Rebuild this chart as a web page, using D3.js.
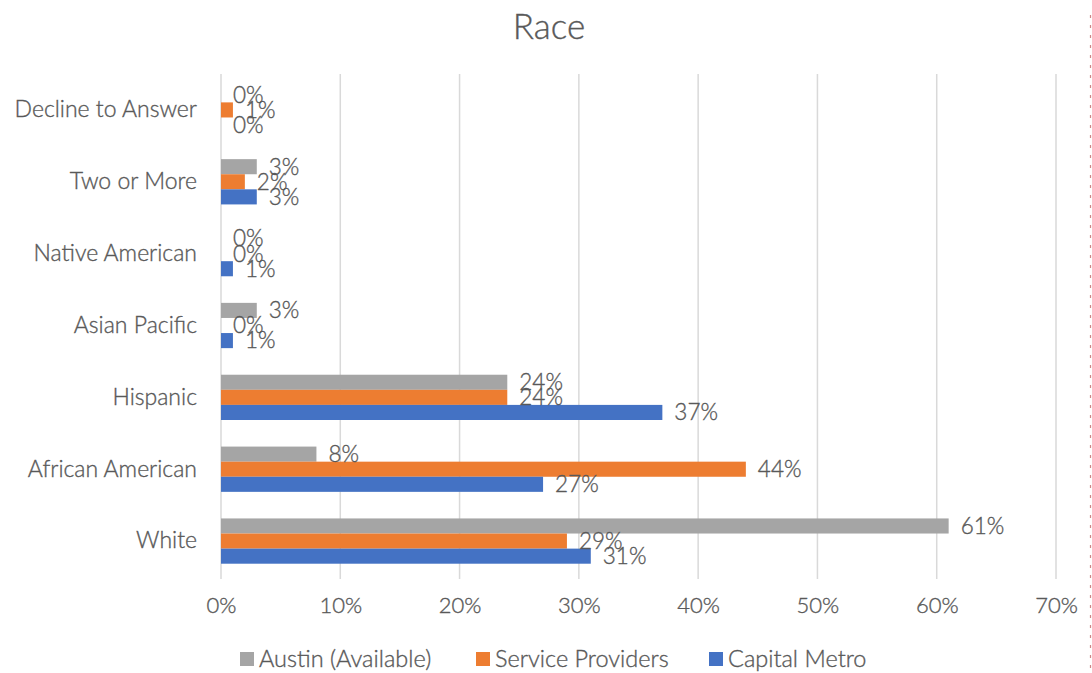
<!DOCTYPE html>
<html>
<head>
<meta charset="utf-8">
<script src="https://cdn.jsdelivr.net/npm/d3@7"></script>
<style>
  html, body { margin: 0; padding: 0; background: #fff; }
  svg { display: block; }
  text { font-family: Lato, "Open Sans", "Liberation Sans", sans-serif; font-weight: 300; fill: #595959; stroke: #595959; stroke-width: 0.35px; }
</style>
</head>
<body>
<svg id="chart" width="1092" height="673"></svg>
<script>
// Race breakdown: share of each group (percent)
const categories = ["White", "African American", "Hispanic", "Asian Pacific", "Native American", "Two or More", "Decline to Answer"];
const seriesNames = ["Austin (Available)", "Service Providers", "Capital Metro"];
const austinAvailable = [61, 8, 24, 3, 0, 3, 0];
const serviceProviders = [29, 44, 24, 0, 0, 2, 1];
const capitalMetro = [31, 27, 37, 1, 1, 3, 0];
const xTicks = [0, 10, 20, 30, 40, 50, 60, 70];
const colors = ["#a5a5a5", "#ed7d31", "#4472c4"];

const seriesValues = [austinAvailable, serviceProviders, capitalMetro];

const svg = d3.select("#chart");
const W = 1092, H = 673;
const margin = { left: 221, right: 36, top: 74, bottom: 96 };

const x = d3.scaleLinear().domain([0, 70]).range([margin.left, W - margin.right]);
const y = d3.scaleBand()
  .domain(categories.slice().reverse())
  .range([margin.top, H - margin.bottom])
  .paddingInner(0.37)
  .paddingOuter(0.185);
const ySub = d3.scaleBand().domain(seriesNames).range([0, y.bandwidth()]);

// Title
svg.append("text")
  .attr("x", 549).attr("y", 39)
  .attr("text-anchor", "middle")
  .style("font-size", "35px")
  .text("Race");

// Vertical gridlines
svg.append("g").selectAll("line")
  .data(xTicks)
  .join("line")
  .attr("x1", d => x(d)).attr("x2", d => x(d))
  .attr("y1", margin.top).attr("y2", H - margin.bottom + 2)
  .attr("stroke", "#d9d9d9")
  .attr("stroke-width", 1.5);

// X axis tick labels
const xAxis = d3.axisBottom(x).tickValues(xTicks).tickFormat(d => d + "%").tickSize(0).tickPadding(0);
const gx = svg.append("g").attr("transform", `translate(0,${H - margin.bottom + 20})`).call(xAxis);
gx.select(".domain").remove();
gx.selectAll("text").style("font-size", "22px").attr("dy", "0.71em");

// Category labels
const yAxis = d3.axisLeft(y).tickSize(0).tickPadding(24);
const gy = svg.append("g").attr("transform", `translate(${margin.left},0)`).call(yAxis);
gy.select(".domain").remove();
gy.selectAll("text").style("font-size", "23px");
svg.selectAll(".tick text")
  .attr("font-family", null)
  .style("font-family", "Lato, 'Open Sans', sans-serif")
  .style("font-weight", 300)
  .attr("fill", "#595959");

// Bars and value labels
const rows = [];
categories.forEach((c, i) => {
  seriesNames.forEach((s, j) => rows.push({ cat: c, series: s, value: seriesValues[j][i], color: colors[j] }));
});

const groups = svg.append("g");
groups.selectAll("rect")
  .data(rows)
  .join("rect")
  .attr("x", x(0))
  .attr("y", d => y(d.cat) + ySub(d.series))
  .attr("width", d => x(d.value) - x(0))
  .attr("height", ySub.bandwidth())
  .attr("fill", d => d.color);

groups.selectAll("text")
  .data(rows)
  .join("text")
  .attr("x", d => x(d.value) + 12)
  .attr("y", d => y(d.cat) + ySub(d.series) + ySub.bandwidth() / 2)
  .attr("dy", "0.35em")
  .style("font-size", "22.5px")
  .text(d => d.value + "%");

// Legend
const legendX = [240, 476, 709];
const legend = svg.append("g").selectAll("g")
  .data(seriesNames)
  .join("g")
  .attr("transform", (d, i) => `translate(${legendX[i]},659)`);
legend.append("rect").attr("x", 0).attr("y", -7).attr("width", 14).attr("height", 14)
  .attr("fill", (d, i) => colors[i]);
legend.append("text").attr("x", 19).attr("y", 0).attr("dy", "0.35em")
  .style("font-size", "23.5px").text(d => d);

// Page edge marker
svg.append("line")
  .attr("x1", 1090.5).attr("x2", 1090.5).attr("y1", 15).attr("y2", 673)
  .attr("stroke", "#b03a3a").attr("stroke-width", 1.2)
  .attr("stroke-dasharray", "3,7").attr("opacity", 0.6);
</script>
</body>
</html>
